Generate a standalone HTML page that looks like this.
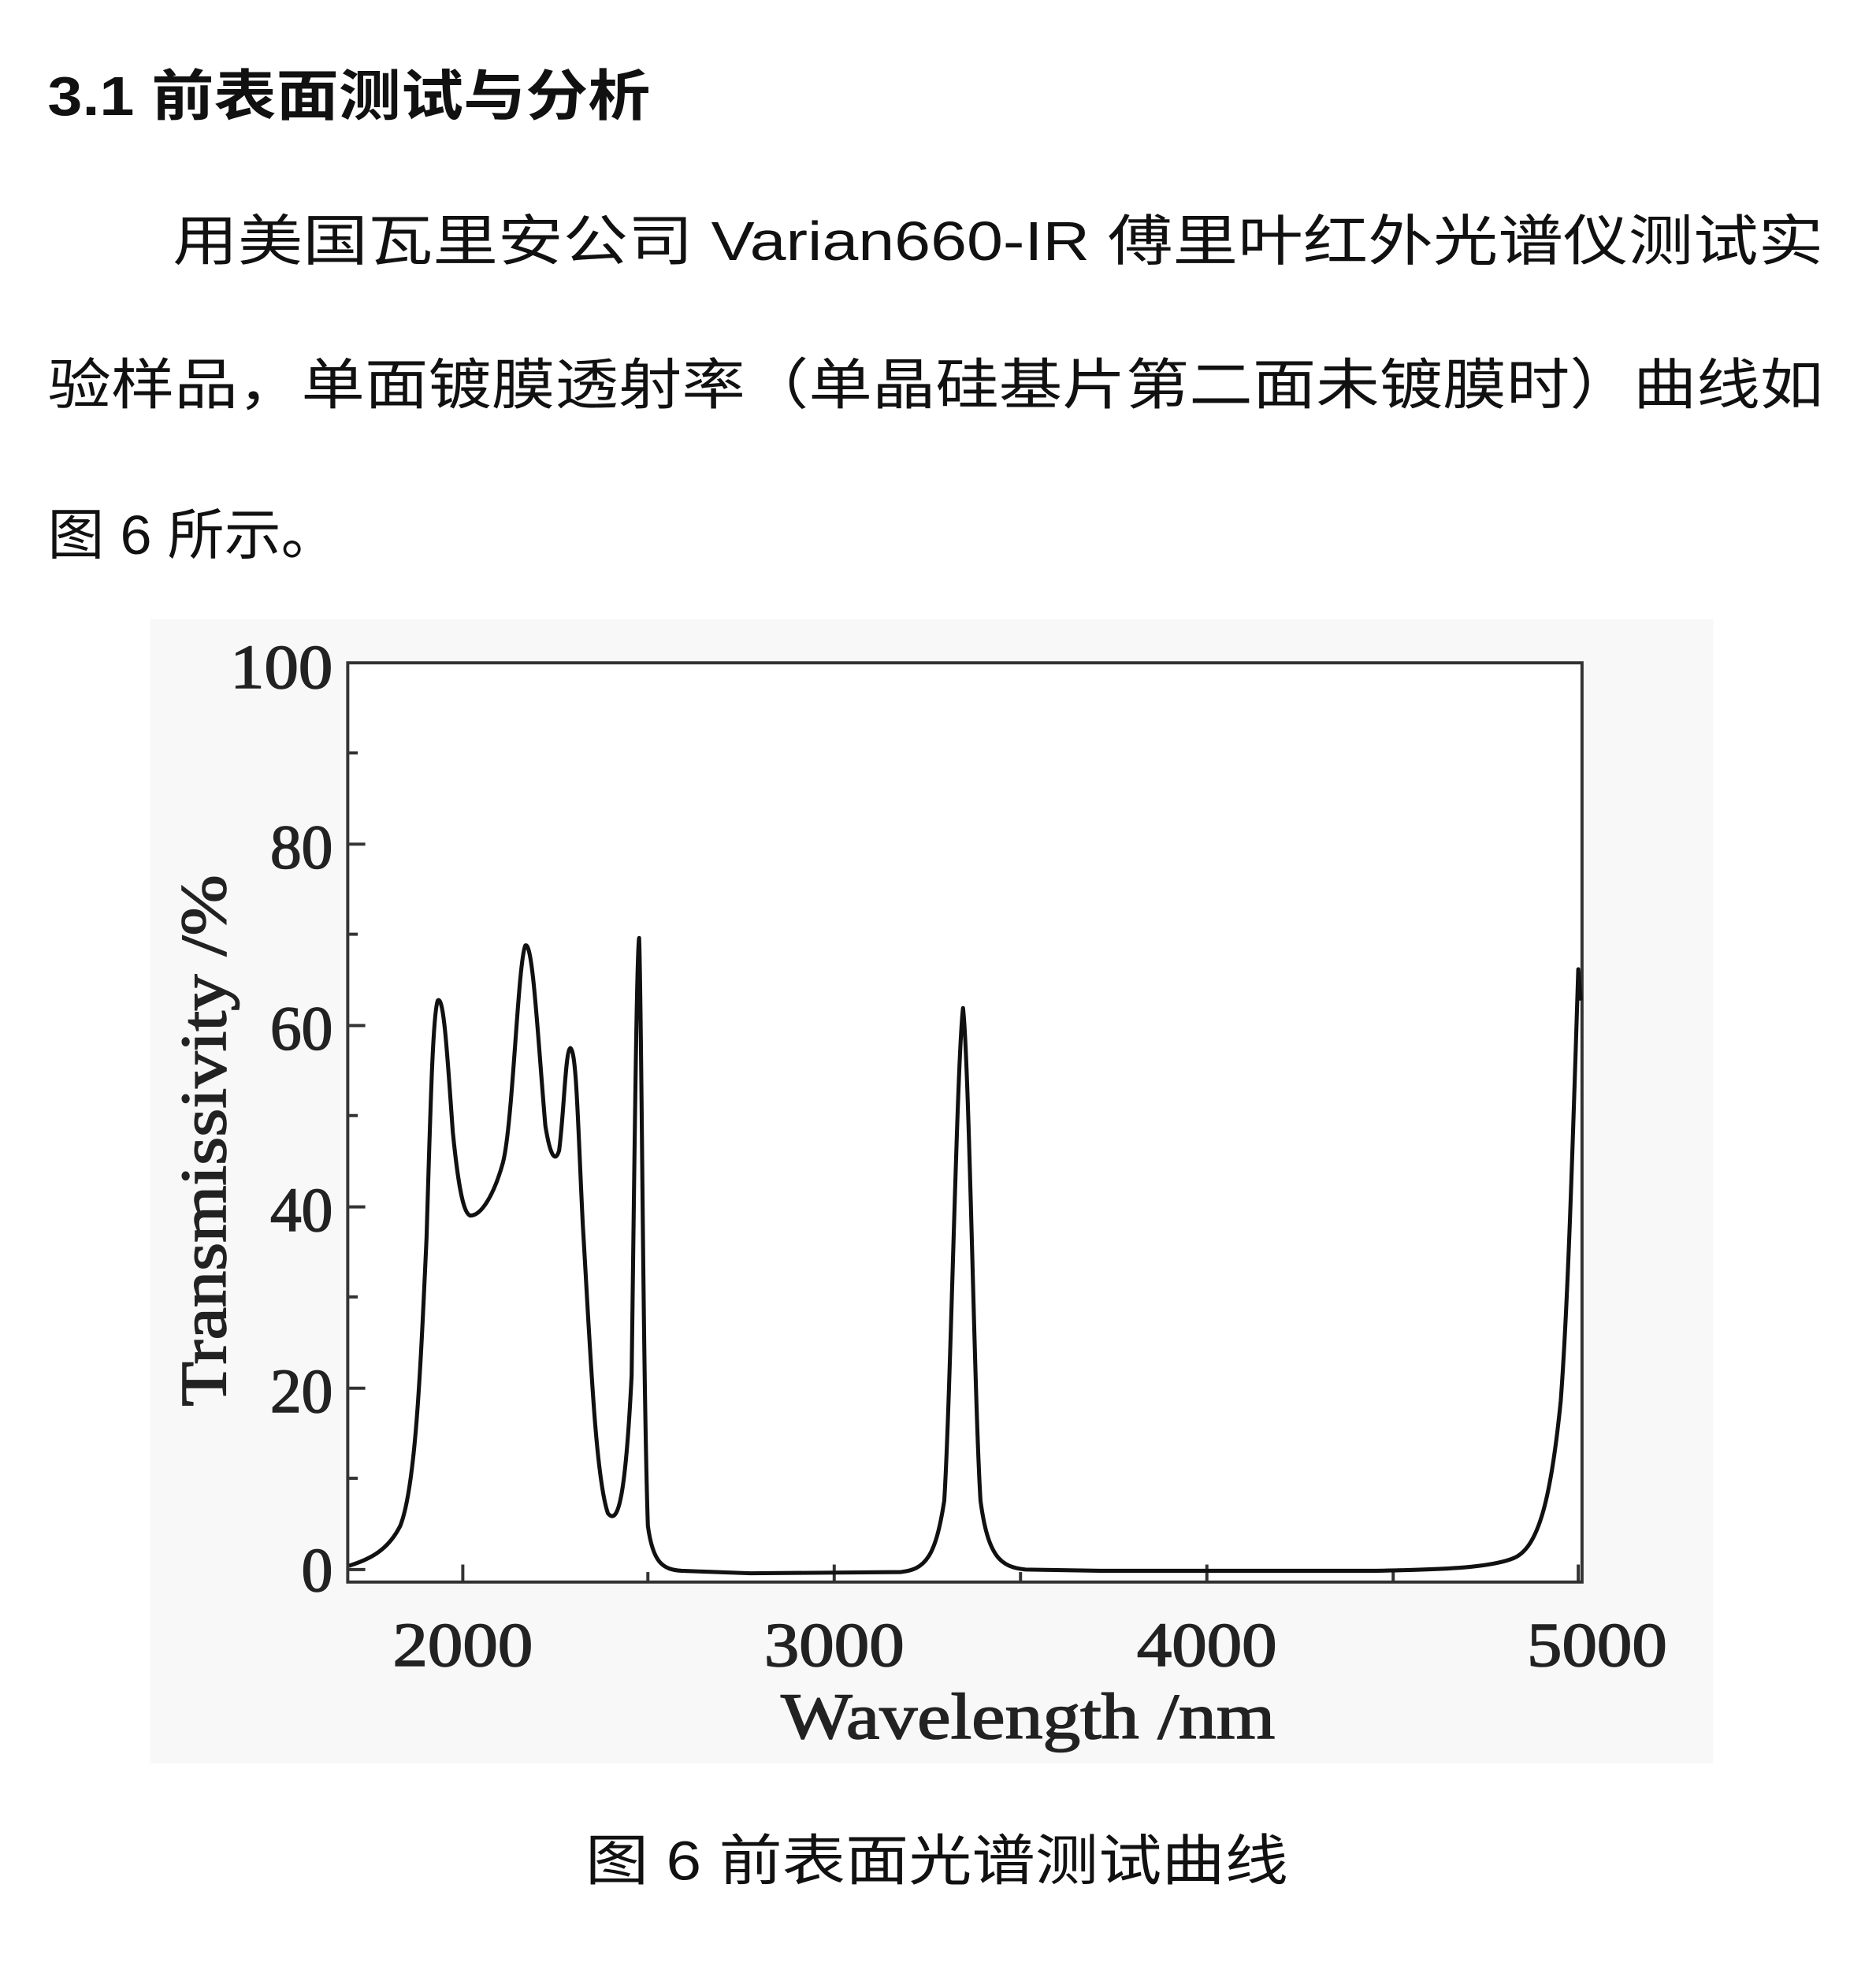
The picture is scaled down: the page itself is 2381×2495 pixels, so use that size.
<!DOCTYPE html>
<html><head><meta charset="utf-8"><style>
html,body{margin:0;padding:0;background:#fff;}
svg{display:block;}
</style></head><body>
<svg width="2381" height="2495" viewBox="0 0 1500 1572" xmlns="http://www.w3.org/2000/svg">
<rect width="1500" height="1572" fill="#fff"/>
<g font-family="'Liberation Sans','Noto Sans CJK SC',sans-serif" fill="#111">
<text x="38" y="92" font-size="44" font-weight="bold" textLength="482" lengthAdjust="spacingAndGlyphs">3.1 前表面测试与分析</text>
<text x="138" y="208" font-size="44" textLength="1320" lengthAdjust="spacingAndGlyphs">用美国瓦里安公司 Varian660-IR 傅里叶红外光谱仪测试实</text>
<text x="38" y="323" font-size="44" textLength="1420" lengthAdjust="spacingAndGlyphs">验样品，单面镀膜透射率（单晶硅基片第二面未镀膜时）曲线如</text>
<text x="38" y="443" font-size="44" textLength="232" lengthAdjust="spacingAndGlyphs">图 6 所示。</text>
<text x="468" y="1503" font-size="44" textLength="562" lengthAdjust="spacingAndGlyphs">图 6  前表面光谱测试曲线</text>
</g>
<rect x="120" y="495" width="1250" height="915" fill="#f8f8f8"/>
<rect x="278" y="530" width="987" height="735" fill="#fff" stroke="#333" stroke-width="2.5"/>
<g stroke="#333" stroke-width="2.5">
<line x1="278" y1="1255" x2="292" y2="1255"/><line x1="278" y1="1110" x2="292" y2="1110"/>
<line x1="278" y1="965" x2="292" y2="965"/><line x1="278" y1="820" x2="292" y2="820"/>
<line x1="278" y1="675" x2="292" y2="675"/>
<line x1="278" y1="1182" x2="286" y2="1182"/><line x1="278" y1="1037" x2="286" y2="1037"/>
<line x1="278" y1="892" x2="286" y2="892"/><line x1="278" y1="747" x2="286" y2="747"/>
<line x1="278" y1="602" x2="286" y2="602"/>
<line x1="370" y1="1265" x2="370" y2="1251"/><line x1="667" y1="1265" x2="667" y2="1251"/>
<line x1="965" y1="1265" x2="965" y2="1251"/><line x1="1262" y1="1265" x2="1262" y2="1251"/>
<line x1="518" y1="1265" x2="518" y2="1257"/><line x1="816" y1="1265" x2="816" y2="1257"/>
<line x1="1114" y1="1265" x2="1114" y2="1257"/>
</g>
<g font-family="'Liberation Serif',serif" font-size="50" fill="#222" stroke="#222" stroke-width="1">
<text x="266" y="550" text-anchor="end" textLength="82" lengthAdjust="spacingAndGlyphs">100</text>
<text x="266" y="694" text-anchor="end">80</text>
<text x="266" y="839" text-anchor="end">60</text>
<text x="266" y="984" text-anchor="end">40</text>
<text x="266" y="1129" text-anchor="end">20</text>
<text x="266" y="1272" text-anchor="end">0</text>
<text x="370" y="1332" text-anchor="middle" textLength="112" lengthAdjust="spacingAndGlyphs">2000</text>
<text x="667" y="1332" text-anchor="middle" textLength="112" lengthAdjust="spacingAndGlyphs">3000</text>
<text x="965" y="1332" text-anchor="middle" textLength="112" lengthAdjust="spacingAndGlyphs">4000</text>
<text x="1277" y="1332" text-anchor="middle" textLength="112" lengthAdjust="spacingAndGlyphs">5000</text>
<text x="822" y="1390" text-anchor="middle" font-size="52" textLength="395" lengthAdjust="spacingAndGlyphs">Wavelength /nm</text>
<text transform="translate(180,912) rotate(-90)" text-anchor="middle" font-size="52" textLength="425" lengthAdjust="spacingAndGlyphs">Transmissivity /%</text>
</g>
<path fill="none" stroke="#111" stroke-width="3.2" stroke-linejoin="round" d="
M279,1252 C295,1247 310,1240 320,1220 C332,1190 336,1100 341,990 C344,890 346,810 350,800
C355,795 358,850 362,905 C366,945 370,970 376,972 C385,972 395,955 402,930
C410,900 414,770 420,756 C426,752 430,830 436,900 C440,925 444,930 447,920
C451,890 452,840 456,838 C461,840 462,900 466,980 C472,1080 476,1180 486,1210
C494,1220 500,1200 505,1100 C507,950 509,760 511,750 C513,800 514,1100 518,1220
C522,1250 530,1255 545,1256 L600,1258 L720,1257 C740,1255 748,1245 755,1200
C760,1120 765,850 770,806 C775,850 779,1120 784,1200 C790,1245 800,1253 820,1255
L880,1256 L1100,1256 C1150,1255 1190,1254 1210,1246 C1230,1238 1240,1200 1248,1120
C1254,1040 1258,900 1262,775 L1264,800"/>
</svg>
</body></html>
